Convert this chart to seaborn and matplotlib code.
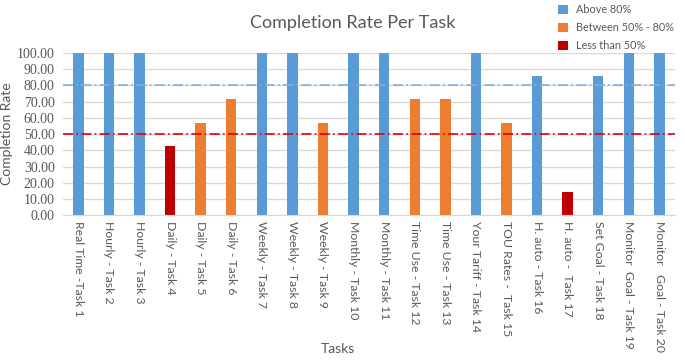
import seaborn as sns
import matplotlib.pyplot as plt
import pandas as pd

tasks = ["Real Time -Task 1", "Hourly - Task 2", "Hourly - Task 3", "Daily - Task 4",
         "Daily - Task 5", "Daily - Task 6", "Weekly - Task 7", "Weekly - Task 8",
         "Weekly - Task 9", "Monthly - Task 10", "Monthly - Task 11", "Time Use - Task 12",
         "Time Use - Task 13", "Your Tariff - Task 14", "TOU Rates -  Task 15",
         "H. auto - Task 16", "H. auto -  Task 17", "Set Goal - Task 18",
         "Monitor  Goal - Task 19", "Monitor   Goal - Task 20"]
rates = [100, 100, 100, 42.86, 57.14, 71.43, 100, 100, 57.14, 100,
         100, 71.43, 71.43, 100, 57.14, 85.71, 14.29, 85.71, 100, 100]
groups = ["Above 80%", "Between 50% - 80%", "Less than 50%"]
palette = {"Above 80%": "#5B9BD5", "Between 50% - 80%": "#ED7D31", "Less than 50%": "#C00000"}

def group_of(v):
    if v > 80:
        return groups[0]
    if v >= 50:
        return groups[1]
    return groups[2]

df = pd.DataFrame({"task": tasks, "rate": rates})
df["group"] = df["rate"].apply(group_of)

sns.set_style("white")
plt.rcParams['font.family'] = ['Lato', 'DejaVu Sans']
grey = "#595959"

fig = plt.figure(figsize=(6.85, 3.61), dpi=100)
ax = fig.add_axes([0.092, 0.404, 0.893, 0.449])
sns.barplot(data=df, x="task", y="rate", hue="group", hue_order=groups,
            palette=palette, dodge=False, width=0.34, saturation=1, ax=ax,
            order=tasks, linewidth=0)

ax.axhline(80, color="#7FB2E0", lw=1.2, ls=(0, (6, 2, 1, 2)), zorder=3)
ax.axhline(50, color="#E00000", lw=1.2, ls=(0, (6, 2, 1, 2)), zorder=3)

ax.set_ylim(0, 100)
ax.set_xlim(-0.5, len(tasks) - 0.5)
ax.set_yticks(range(0, 101, 10))
ax.set_yticklabels([f"{v:.2f}" for v in range(0, 101, 10)], fontsize=10,
                   color=grey, family=['Liberation Serif'])
ax.yaxis.grid(True, color="#D9D9D9", lw=1)
ax.set_axisbelow(True)
ax.tick_params(axis="y", length=0, pad=6)
ax.set_xticks(range(len(tasks)))
ax.set_xticklabels(tasks, rotation=270, fontsize=8.8, color=grey)
ax.tick_params(axis="x", length=0, pad=4)
ax.set_xticks([i - 0.5 for i in range(len(tasks) + 1)], minor=True)
ax.tick_params(axis="x", which="minor", length=4, color="#D9D9D9")
for s in ["top", "right", "left"]:
    ax.spines[s].set_visible(False)
ax.spines["bottom"].set_color("#D9D9D9")

ax.set_xlabel("Tasks", fontsize=10, color=grey)
ax.xaxis.set_label_coords(0.45, -0.79)
ax.set_ylabel("Completion Rate", fontsize=10, color=grey, labelpad=3)
fig.text(0.515, 0.935, "Completion Rate Per Task", fontsize=13, color=grey,
         ha="center", va="center")

ax.get_legend().remove()
handles, labels = ax.get_legend_handles_labels()
leg = fig.legend(handles, labels, loc="upper left", bbox_to_anchor=(0.8, 1.015),
                 frameon=False, fontsize=7.8,
                 handlelength=0.9, handleheight=0.9,
                 labelspacing=0.65, handletextpad=0.8)
for t in leg.get_texts():
    t.set_color(grey)

fig.savefig("out.png", dpi=100)
